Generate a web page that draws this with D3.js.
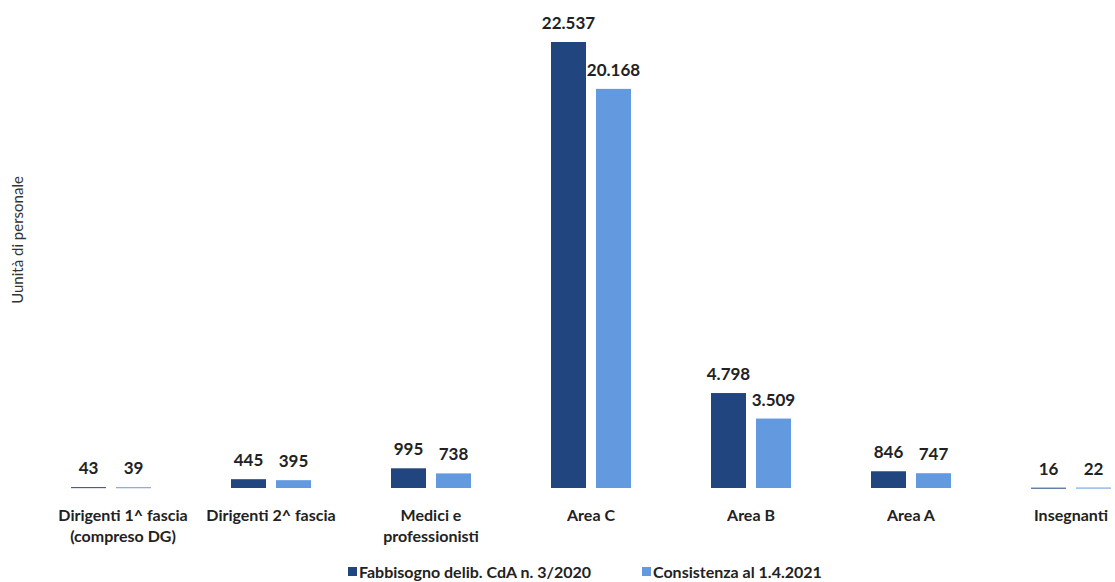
<!DOCTYPE html>
<html><head><meta charset="utf-8">
<script src="https://cdn.jsdelivr.net/npm/d3@7/dist/d3.min.js"></script>
<style>body{margin:0;background:#fff}svg{display:block}</style>
</head><body><svg id="c" width="1115" height="582"></svg>
<script>
const categories = [["Dirigenti 1^ fascia","(compreso DG)"],["Dirigenti 2^ fascia"],["Medici e","professionisti"],["Area C"],["Area B"],["Area A"],["Insegnanti"]];
const fabbisogno = [43,445,995,22537,4798,846,16];
const consistenza = [39,395,738,20168,3509,747,22];
const seriesNames = ["Fabbisogno delib. CdA n. 3/2020","Consistenza al 1.4.2021"];
const colors = ["#21457e","#6399de"];

const svg = d3.select("#c");
const font = "Lato, 'Open Sans', sans-serif";
const base = 488;
const x = d3.scaleBand().domain(d3.range(categories.length)).range([31, 1151]).padding(0);
const y = d3.scaleLinear().domain([0, 22537]).range([base, 42]);
const xs = d3.scaleBand().domain([0,1]).range([-40, 40]).paddingInner(0.222).paddingOuter(0);
const fmt = v => d3.format(",")(v).replace(/,/g, ".");
const series = [fabbisogno, consistenza];

series.forEach((vals, s) => {
  const g = svg.append("g");
  g.selectAll("rect").data(vals).join("rect")
    .attr("x", (d,i) => x(i) + x.bandwidth()/2 + xs(s))
    .attr("width", xs.bandwidth())
    .attr("y", d => y(d))
    .attr("height", d => Math.max(1, base - y(d)))
    .attr("fill", colors[s]);
  g.selectAll("text").data(vals).join("text")
    .attr("x", (d,i) => x(i) + x.bandwidth()/2 + xs(s) + xs.bandwidth()/2)
    .attr("y", d => y(d) - 13)
    .attr("text-anchor", "middle")
    .attr("font-family", font).attr("font-weight", "bold").attr("font-size", 17)
    .attr("fill", "#222")
    .text(d => fmt(d));
});

const xl = svg.append("g");
categories.forEach((lines, i) => {
  const cx = x(i) + x.bandwidth()/2 + (i===0 ? 12 : 0);
  const t = xl.append("text")
    .attr("y", 521)
    .attr("text-anchor", "middle")
    .attr("font-family", font).attr("font-weight", "bold").attr("font-size", 16)
    .attr("fill", "#222");
  lines.forEach((l, k) => t.append("tspan").attr("x", cx).attr("dy", k ? 21 : 0).text(l));
});

svg.append("text")
  .attr("transform", "translate(23,240) rotate(-90)")
  .attr("text-anchor", "middle")
  .attr("font-family", font).attr("font-size", 15).attr("fill", "#333")
  .text("Uunità di personale");

const legX = [348, 642];
seriesNames.forEach((n, s) => {
  svg.append("rect").attr("x", legX[s]).attr("y", 567).attr("width", 9).attr("height", 9).attr("fill", colors[s]);
  svg.append("text").attr("x", legX[s] + 11).attr("y", 578)
    .attr("font-family", font).attr("font-weight", "bold").attr("font-size", 16).attr("fill", "#222")
    .text(n);
});
</script></body></html>
